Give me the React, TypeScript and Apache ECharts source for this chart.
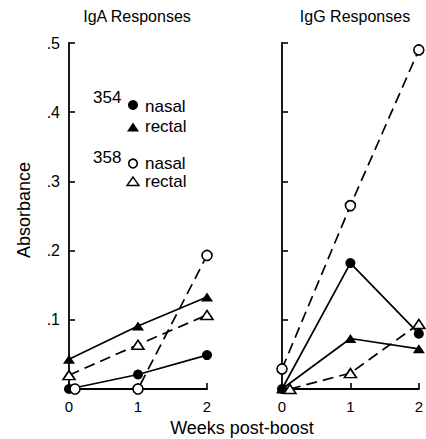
import React, { useEffect, useRef } from 'react';
import * as echarts from 'echarts';

// Weeks post-boost (x values); small offsets used in the original to separate overlapping symbols
const weeks = [0, 1, 2];
const igaX358Nasal = [0.087, 1, 2];
const iggX358Rectal = [0.116, 1, 2];

// IgA responses (absorbance)
const iga354Nasal = [0.0, 0.021, 0.049];
const iga354Rectal = [0.043, 0.091, 0.133];
const iga358Nasal = [0.0, 0.0, 0.193];
const iga358Rectal = [0.02, 0.064, 0.107];

// IgG responses (absorbance)
const igg354Nasal = [0.0, 0.182, 0.08];
const igg354Rectal = [0.0, 0.073, 0.058];
const igg358Nasal = [0.029, 0.265, 0.49];
const igg358Rectal = [0.0, 0.023, 0.094];

const yTicks = [0, 0.1, 0.2, 0.3, 0.4, 0.5];
const titles = ['IgA Responses', 'IgG Responses'];

const FONT = '"Liberation Sans", Arial, Helvetica, sans-serif';

const pts = (xs: number[], ys: number[]) => xs.map((x, i) => [x, ys[i]]);

export default function App() {
  const ref = useRef<HTMLDivElement>(null);
  useEffect(() => {
    if (!ref.current) return;
    const chart = echarts.init(ref.current, undefined, { renderer: 'svg' });
    const axisLine = { show: true, lineStyle: { color: '#000', width: 1.8 } };
    const axisTick = { show: true, inside: true, length: 6, lineStyle: { color: '#000', width: 1.6 } };
    const mk = (
      name: string,
      grid: number,
      data: number[][],
      symbol: string,
      filled: boolean,
      dashed: boolean
    ) => ({
      name,
      type: 'line',
      xAxisIndex: grid,
      yAxisIndex: grid,
      data,
      symbol,
      symbolSize: symbol === 'triangle' ? [12, 9] : 10,
      showSymbol: true,
      lineStyle: { color: '#000', width: 1.7, type: dashed ? [11, 6] : 'solid' },
      itemStyle: {
        color: filled ? '#000' : '#fff',
        borderColor: '#000',
        borderWidth: filled ? 0 : 1.6,
      },
      z: filled ? 3 : 4,
    });
    const xAxisCfg = (gridIndex: number) => ({
      type: 'value',
      gridIndex,
      min: 0,
      max: 2,
      interval: 1,
      axisLine,
      axisTick,
      splitLine: { show: false },
      axisLabel: { color: '#000', fontSize: 15, fontFamily: FONT, margin: 10 },
    });
    const yAxisCfg = (gridIndex: number, labels: boolean) => ({
      type: 'value',
      gridIndex,
      min: yTicks[0],
      max: yTicks[yTicks.length - 1],
      interval: 0.1,
      axisLine,
      axisTick,
      splitLine: { show: false },
      axisLabel: {
        show: labels,
        color: '#000',
        fontSize: 16,
        fontFamily: FONT,
        margin: 9,
        formatter: (v: number) => (v === 0 ? '' : '.' + Math.round(v * 10)),
      },
    });
    const txt = (text: string, x: number, y: number, size: number, align = 'left', rotation = 0) => ({
      type: 'text',
      x,
      y,
      rotation,
      style: {
        text,
        font: `${size}px ${FONT}`,
        fill: '#000',
        textAlign: align,
        textVerticalAlign: 'middle',
      },
    });
    const option = {
      animation: false,
      grid: [
        { left: 69, top: 43, width: 138, height: 346 },
        { left: 282, top: 43, width: 138, height: 346 },
      ],
      xAxis: [xAxisCfg(0), xAxisCfg(1)],
      yAxis: [yAxisCfg(0, true), yAxisCfg(1, false)],
      series: [
        mk('IgA 354 nasal', 0, pts(weeks, iga354Nasal), 'circle', true, false),
        mk('IgA 354 rectal', 0, pts(weeks, iga354Rectal), 'triangle', true, false),
        mk('IgA 358 nasal', 0, pts(igaX358Nasal, iga358Nasal), 'circle', false, true),
        mk('IgA 358 rectal', 0, pts(weeks, iga358Rectal), 'triangle', false, true),
        mk('IgG 354 nasal', 1, pts(weeks, igg354Nasal), 'circle', true, false),
        mk('IgG 354 rectal', 1, pts(weeks, igg354Rectal), 'triangle', true, false),
        mk('IgG 358 nasal', 1, pts(weeks, igg358Nasal), 'circle', false, true),
        mk('IgG 358 rectal', 1, pts(iggX358Rectal, igg358Rectal), 'triangle', false, true),
      ],
      graphic: [
        txt(titles[0], 137, 16, 16, 'center'),
        txt(titles[1], 355, 16, 16, 'center'),
        txt('Absorbance', 24, 210, 18, 'center', Math.PI / 2),
        txt('Weeks post-boost', 242, 428, 18, 'center'),
        txt('354', 93, 97, 17),
        { type: 'circle', shape: { cx: 133, cy: 105, r: 5 }, style: { fill: '#000' } },
        txt('nasal', 145, 106, 17),
        { type: 'polygon', shape: { points: [[133, 122.5], [127, 131.5], [139, 131.5]] }, style: { fill: '#000' } },
        txt('rectal', 145, 126, 17),
        txt('358', 93, 157, 17),
        { type: 'circle', shape: { cx: 133, cy: 163.5, r: 4.3 }, style: { fill: '#fff', stroke: '#000', lineWidth: 1.6 } },
        txt('nasal', 145, 163, 17),
        { type: 'polygon', shape: { points: [[133, 177], [127, 185.5], [139, 185.5]] }, style: { fill: '#fff', stroke: '#000', lineWidth: 1.4 } },
        txt('rectal', 145, 181.5, 17),
      ],
    };
    chart.setOption(option as any);
    return () => chart.dispose();
  }, []);
  return (
    <div
      ref={ref}
      style={{ position: 'fixed', left: 0, top: 0, width: 426, height: 439, background: '#fff' }}
    />
  );
}
